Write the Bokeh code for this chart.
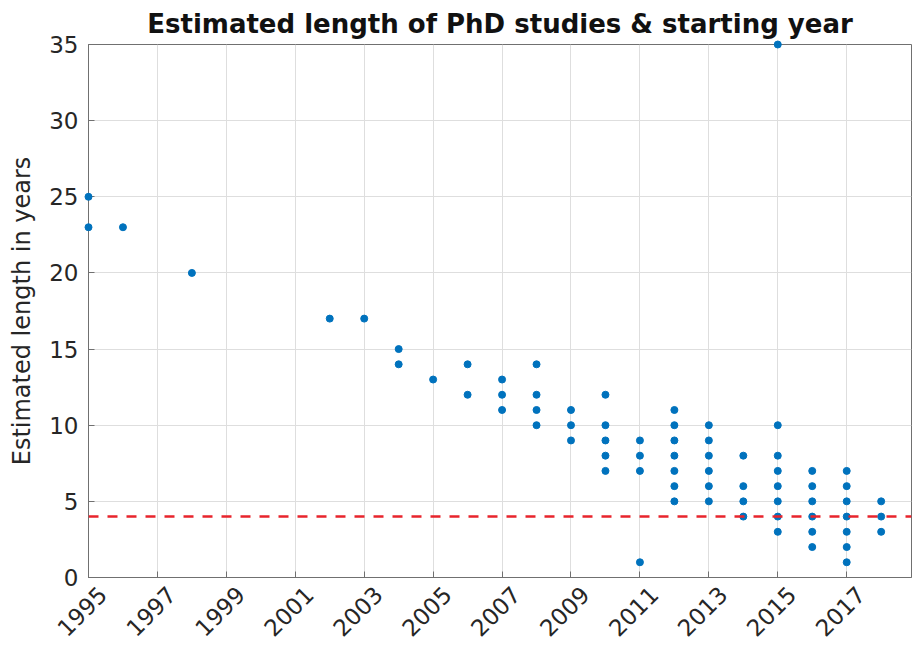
import math
from bokeh.plotting import figure
from bokeh.models import Range1d, FixedTicker, Span, ColumnDataSource, LinearAxis
from bokeh.embed import file_html
from bokeh.resources import INLINE

# ---- data ----
START_YEAR = [
    1995, 1995,
    1996,
    1998,
    2002,
    2003,
    2004, 2004,
    2005,
    2006, 2006,
    2007, 2007, 2007,
    2008, 2008, 2008, 2008,
    2009, 2009, 2009,
    2010, 2010, 2010, 2010, 2010,
    2011, 2011, 2011, 2011,
    2012, 2012, 2012, 2012, 2012, 2012, 2012,
    2013, 2013, 2013, 2013, 2013, 2013,
    2014, 2014, 2014, 2014,
    2015, 2015, 2015, 2015, 2015, 2015, 2015, 2015,
    2016, 2016, 2016, 2016, 2016, 2016,
    2017, 2017, 2017, 2017, 2017, 2017, 2017,
    2018, 2018, 2018,
]
EST_LENGTH = [
    25, 23,
    23,
    20,
    17,
    17,
    15, 14,
    13,
    14, 12,
    13, 12, 11,
    14, 12, 11, 10,
    11, 10, 9,
    12, 10, 9, 8, 7,
    9, 8, 7, 1,
    11, 10, 9, 8, 7, 6, 5,
    10, 9, 8, 7, 6, 5,
    8, 6, 5, 4,
    35, 10, 8, 7, 6, 5, 4, 3,
    7, 6, 5, 4, 3, 2,
    7, 6, 5, 4, 3, 2, 1,
    5, 4, 3,
]
X_TICKS = [1995, 1997, 1999, 2001, 2003, 2005, 2007, 2009, 2011, 2013, 2015, 2017]
X_TICK_LABELS = ["1995", "1997", "1999", "2001", "2003", "2005", "2007", "2009",
                 "2011", "2013", "2015", "2017"]
Y_TICKS = [0, 5, 10, 15, 20, 25, 30, 35]
THRESHOLD = 4
TITLE = "Estimated length of PhD studies & starting year"
Y_LABEL = "Estimated length in years"

AXIS_GREY = "#707070"
TEXT_COL = "#262626"
LABEL_SHIFT = 0.41   # rotated labels hang to the right of their tick (MATLAB style)

source = ColumnDataSource(data=dict(year=START_YEAR, length=EST_LENGTH))

p = figure(
    width=913, height=646,
    x_range=Range1d(1995, 2018.88), y_range=Range1d(0, 35),
    output_backend="svg", toolbar_location=None,
    min_border_left=88, min_border_right=2, min_border_top=44, min_border_bottom=68,
    title=TITLE,
)
p.background_fill_color = "white"
p.border_fill_color = "white"
p.outline_line_color = AXIS_GREY
p.outline_line_width = 1

p.title.align = "center"
p.title.text_font = "DejaVu Sans"
p.title.text_font_size = "26px"
p.title.text_font_style = "bold"
p.title.text_color = "#111111"
p.title.standoff = 12


def style_tick_axis(ax):
    ax.axis_line_color = AXIS_GREY
    ax.major_tick_line_color = AXIS_GREY
    ax.major_tick_in = 6
    ax.major_tick_out = 0
    ax.minor_tick_line_color = None
    ax.major_label_text_font = "DejaVu Sans"
    ax.major_label_text_font_size = "23px"
    ax.major_label_text_color = TEXT_COL


# bottom axis: inward ticks only
xax = p.xaxis[0]
style_tick_axis(xax)
xax.ticker = FixedTicker(ticks=X_TICKS)
xax.major_label_overrides = {t: "" for t in X_TICKS}
xax.major_label_text_font_size = "1px"
xax.major_label_standoff = 0

# rotated year labels
lab_ticks = [t + LABEL_SHIFT for t in X_TICKS]
lab_axis = LinearAxis(
    ticker=FixedTicker(ticks=lab_ticks),
    major_label_overrides={lt: lab for lt, lab in zip(lab_ticks, X_TICK_LABELS)},
    major_label_orientation=math.pi / 4,
    major_label_standoff=13,
    major_tick_in=0, major_tick_out=0,
    axis_line_color=None, major_tick_line_color=None, minor_tick_line_color=None,
    major_label_text_font="DejaVu Sans", major_label_text_font_size="23px",
    major_label_text_color=TEXT_COL,
)
p.add_layout(lab_axis, "below")

# left axis
yax = p.yaxis[0]
style_tick_axis(yax)
yax.ticker = FixedTicker(ticks=Y_TICKS)
yax.major_label_standoff = 10
yax.axis_label = Y_LABEL
yax.axis_label_text_font = "DejaVu Sans"
yax.axis_label_text_font_size = "24px"
yax.axis_label_text_font_style = "normal"
yax.axis_label_text_color = TEXT_COL
yax.axis_label_standoff = 10

p.xgrid.ticker = FixedTicker(ticks=X_TICKS)
p.ygrid.ticker = FixedTicker(ticks=Y_TICKS)
p.grid.grid_line_color = "#dedede"
p.grid.grid_line_width = 1

p.scatter("year", "length", source=source, size=7, level="overlay",
          fill_color="#0072BD", line_color="#0072BD")

p.add_layout(Span(location=THRESHOLD, dimension="width", level="overlay",
                  line_color="#e8242c", line_width=2.5, line_dash="10 9"))

open("out.html", "w").write(file_html(p, INLINE))
